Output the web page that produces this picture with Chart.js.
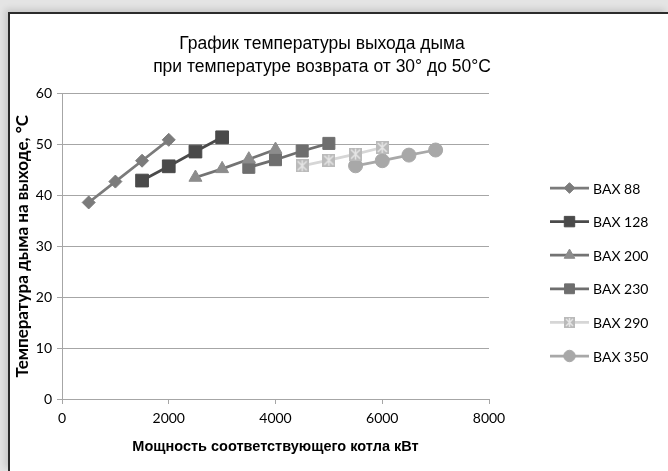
<!DOCTYPE html>
<html>
<head>
<meta charset="utf-8">
<script src="https://cdn.jsdelivr.net/npm/chart.js@4.4.0/dist/chart.umd.min.js"></script>
<style>
  html, body { margin: 0; padding: 0; width: 668px; height: 471px; overflow: hidden; background: #e4e4e4; }
  #moldura { position: absolute; left: 8px; top: 12px; right: 0; bottom: 0; background: #fff;
    border-top: 2px solid #2b2b2b; border-left: 2px solid #2b2b2b; box-shadow: -3px -3px 6px rgba(0,0,0,0.12); }
  #area { position: absolute; left: 0; top: 0; width: 668px; height: 471px; }
</style>
</head>
<body>
<div id="moldura"></div>
<div id="area"><canvas id="grafico" width="668" height="471"></canvas></div>
<script>
  // valores (potência kW -> temperatura °C)
  const nomes = ["BAX 88", "BAX 128", "BAX 200", "BAX 230", "BAX 290", "BAX 350"];
  const potBAX88 = [500, 1000, 1500, 2000];
  const tempBAX88 = [38.6, 42.7, 46.8, 50.9];
  const potBAX128 = [1500, 2000, 2500, 3000];
  const tempBAX128 = [42.9, 45.7, 48.6, 51.4];
  const potBAX200 = [2500, 3000, 3500, 4000];
  const tempBAX200 = [43.5, 45.2, 47.1, 49.0];
  const potBAX230 = [3500, 4000, 4500, 5000];
  const tempBAX230 = [45.5, 47.0, 48.7, 50.2];
  const potBAX290 = [4500, 5000, 5500, 6000];
  const tempBAX290 = [45.8, 46.9, 48.1, 49.4];
  const potBAX350 = [5500, 6000, 6500, 7000];
  const tempBAX350 = [45.8, 46.8, 47.9, 48.9];
  const ticksX = [0, 2000, 4000, 6000, 8000];
  const ticksY = [0, 10, 20, 30, 40, 50, 60];

  // marcador quadrado com asterisco (BAX 290)
  function marcadorEstrela(lado) {
    const c = document.createElement("canvas");
    c.width = lado; c.height = lado;
    const g = c.getContext("2d");
    const m = lado / 2;
    g.fillStyle = "#bababa";
    g.fillRect(0, 0, lado, lado);
    g.strokeStyle = "#e6e6e6";
    g.lineWidth = 1.5;
    g.beginPath();
    g.moveTo(2, 2); g.lineTo(lado - 2, lado - 2);
    g.moveTo(lado - 2, 2); g.lineTo(2, lado - 2);
    g.moveTo(m, 1); g.lineTo(m, lado - 1);
    g.stroke();
    return c;
  }
  const estrela = marcadorEstrela(13);
  const estrelaLegenda = marcadorEstrela(11);

  function pontos(xs, ys) {
    return xs.map((x, i) => ({ x: x, y: ys[i] }));
  }

  const estilos = [
    { cor: "#7b7b7b", marca: "#7b7b7b", forma: "rectRot", raio: 6.5 },
    { cor: "#4a4a4a", marca: "#4a4a4a", forma: "rect", raio: 9 },
    { cor: "#737373", marca: "#8c8c8c", forma: "triangle", raio: 7.5 },
    { cor: "#6e6e6e", marca: "#6e6e6e", forma: "rect", raio: 8.5 },
    { cor: "#d6d6d6", marca: "#bababa", forma: estrela, raio: 7 },
    { cor: "#a8a8a8", marca: "#a8a8a8", forma: "circle", raio: 7 }
  ];
  const dados = [
    pontos(potBAX88, tempBAX88),
    pontos(potBAX128, tempBAX128),
    pontos(potBAX200, tempBAX200),
    pontos(potBAX230, tempBAX230),
    pontos(potBAX290, tempBAX290),
    pontos(potBAX350, tempBAX350)
  ];

  const datasets = nomes.map((nome, i) => ({
    label: nome,
    data: dados[i],
    showLine: true,
    borderColor: estilos[i].cor,
    borderWidth: 2.75,
    backgroundColor: estilos[i].marca,
    pointBackgroundColor: estilos[i].marca,
    pointBorderColor: estilos[i].marca,
    pointBorderWidth: 1,
    pointStyle: estilos[i].forma,
    pointRadius: estilos[i].raio,
    pointHoverRadius: estilos[i].raio
  }));

  function desenhaForma(ctx, forma, r, x, y) {
    if (forma === "rect") {
      const s = r * Math.SQRT1_2;
      ctx.rect(x - s, y - s, 2 * s, 2 * s);
    } else if (forma === "rectRot") {
      ctx.moveTo(x, y - r); ctx.lineTo(x + r, y); ctx.lineTo(x, y + r); ctx.lineTo(x - r, y); ctx.closePath();
    } else if (forma === "triangle") {
      ctx.moveTo(x, y - r);
      ctx.lineTo(x + r * 0.866, y + r / 2);
      ctx.lineTo(x - r * 0.866, y + r / 2);
      ctx.closePath();
    } else {
      ctx.arc(x, y, r, 0, Math.PI * 2);
    }
  }

  // legenda desenhada à mão: linha + marcador, como no Excel
  const legendaExcel = {
    id: "legendaExcel",
    afterDraw(chart) {
      const ctx = chart.ctx;
      ctx.save();
      chart.data.datasets.forEach((ds, i) => {
        const y = 188 + i * 33.6;
        ctx.strokeStyle = ds.borderColor;
        ctx.lineWidth = ds.borderWidth;
        ctx.beginPath();
        ctx.moveTo(550, y);
        ctx.lineTo(589, y);
        ctx.stroke();
        if (typeof ds.pointStyle === "string") {
          ctx.fillStyle = ds.pointBackgroundColor;
          ctx.strokeStyle = ds.pointBorderColor;
          ctx.lineWidth = 1;
          ctx.beginPath();
          desenhaForma(ctx, ds.pointStyle, ds.pointRadius * 0.82, 569.5, y);
          ctx.fill();
          ctx.stroke();
        } else {
          ctx.drawImage(estrelaLegenda, 564, y - 5.5);
        }
        ctx.fillStyle = "#000";
        ctx.font = "14px Lato";
        ctx.textBaseline = "middle";
        ctx.fillText(ds.label, 593, y + 1);
      });
      ctx.restore();
    }
  };

  const ctx = document.getElementById("grafico").getContext("2d");
  new Chart(ctx, {
    type: "scatter",
    data: { datasets: datasets },
    plugins: [legendaExcel],
    options: {
      responsive: false,
      animation: false,
      events: [],
      layout: { padding: { left: 0, right: 24, top: 0, bottom: 0 } },
      plugins: {
        legend: { display: false },
        tooltip: { enabled: false },
        title: {
          display: true,
          text: ["График температуры выхода дыма", "при температуре возврата от 30° до 50°C"],
          color: "#000",
          font: { family: "Liberation Sans", size: 17.5, weight: "normal", lineHeight: 1.3 },
          padding: { top: 33, bottom: 15 }
        }
      },
      scales: {
        x: {
          type: "linear",
          min: 0, max: 8000,
          afterBuildTicks: s => { s.ticks = ticksX.map(v => ({ value: v })); },
          afterFit: s => { s.height = 72; },
          grid: { drawOnChartArea: false, drawTicks: true, tickLength: 5, color: "#a6a6a6" },
          border: { color: "#a6a6a6", width: 1 },
          ticks: { color: "#000", font: { family: "Lato", size: 14 }, padding: 6, callback: v => String(v) },
          title: {
            display: true,
            text: "Мощность соответствующего котла кВт",
            color: "#000",
            font: { family: "Liberation Sans", size: 14.5, weight: "bold" },
            padding: { top: 0, bottom: 15 }
          }
        },
        y: {
          min: 0, max: 60,
          afterBuildTicks: s => { s.ticks = ticksY.map(v => ({ value: v })); },
          afterFit: s => { s.width = 62; },
          grid: { drawTicks: true, tickLength: 5, color: "#a6a6a6" },
          border: { color: "#a6a6a6", width: 1 },
          ticks: { color: "#000", font: { family: "Lato", size: 14 }, padding: 5 },
          title: {
            display: true,
            text: "Температура дыма на выходе, °C",
            color: "#000",
            font: { family: "Lato", size: 17, weight: "bold", lineHeight: 1.2 },
            padding: { top: 12, bottom: 0 }
          }
        },
        // eixo vazio só para reservar o espaço da legenda à direita
        espaco: {
          position: "right",
          min: 0, max: 1,
          afterFit: s => { s.width = 155; },
          grid: { display: false },
          border: { display: false },
          ticks: { display: false }
        }
      }
    }
  });
</script>
</body>
</html>
